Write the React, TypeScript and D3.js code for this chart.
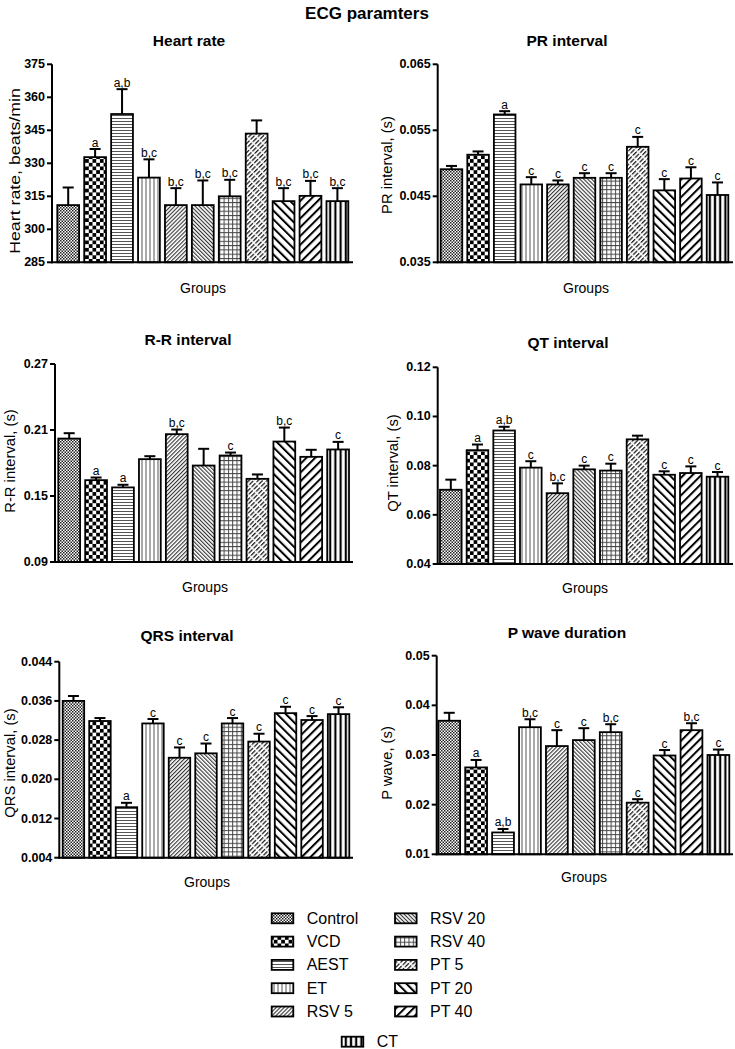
import React from "react";
import * as d3 from "d3";

const groups = ["Control", "VCD", "AEST", "ET", "RSV 5", "RSV 20", "RSV 40", "PT 5", "PT 20", "PT 40", "CT"];
const patternIds = ["pControl", "pVCD", "pAEST", "pET", "pRSV5", "pRSV20", "pRSV40", "pPT5", "pPT20", "pPT40", "pCT"];

// Heart rate
const hrMean = [311.0, 332.8, 352.4, 323.5, 311.0, 311.0, 315.0, 343.5, 312.8, 315.2, 312.8];
const hrErr = [8.0, 3.7, 11.3, 8.3, 7.7, 11.2, 7.5, 6.0, 5.9, 6.8, 5.9];
const hrSig = ["", "a", "a,b", "b,c", "b,c", "b,c", "b,c", "", "b,c", "b,c", "b,c"];
const hrTicks = [285, 300, 315, 330, 345, 360, 375];

// PR interval
const prMean = [0.0491, 0.0513, 0.0574, 0.0468, 0.0468, 0.0478, 0.0478, 0.0525, 0.0459, 0.0477, 0.0452];
const prErr = [0.0005, 0.0005, 0.0005, 0.0011, 0.0006, 0.0007, 0.0007, 0.0015, 0.0017, 0.0017, 0.0019];
const prSig = ["", "", "a", "c", "c", "c", "c", "c", "c", "c", "c"];
const prTicks = [0.035, 0.045, 0.055, 0.065];

// R-R interval
const rrMean = [0.2022, 0.1644, 0.1578, 0.1835, 0.2062, 0.1777, 0.1868, 0.1656, 0.1995, 0.1856, 0.1923];
const rrErr = [0.0049, 0.0024, 0.0024, 0.0027, 0.0042, 0.0152, 0.0027, 0.004, 0.0127, 0.0064, 0.0069];
const rrSig = ["", "a", "a", "", "b,c", "", "c", "", "b,c", "", "c"];
const rrTicks = [0.09, 0.15, 0.21, 0.27];

// QT interval
const qtMean = [0.0702, 0.0863, 0.0943, 0.0792, 0.0688, 0.0785, 0.078, 0.0907, 0.0763, 0.077, 0.0755];
const qtErr = [0.0041, 0.0023, 0.0015, 0.0026, 0.004, 0.0015, 0.0028, 0.0015, 0.0014, 0.0027, 0.0019];
const qtSig = ["", "a", "a,b", "c", "b,c", "c", "c", "", "c", "c", "c"];
const qtTicks = [0.04, 0.06, 0.08, 0.10, 0.12];

// QRS interval
const qrsMean = [0.036, 0.0319, 0.0143, 0.0314, 0.0244, 0.0253, 0.0314, 0.0277, 0.0335, 0.0321, 0.0333];
const qrsErr = [0.001, 0.0006, 0.0009, 0.0009, 0.0021, 0.002, 0.0011, 0.0016, 0.0013, 0.0008, 0.0014];
const qrsSig = ["", "", "a", "c", "c", "c", "c", "c", "c", "c", "c"];
const qrsTicks = [0.004, 0.012, 0.020, 0.028, 0.036, 0.044];

// P wave duration
const pwMean = [0.0369, 0.0275, 0.0144, 0.0356, 0.0318, 0.033, 0.0346, 0.0204, 0.0299, 0.035, 0.030];
const pwErr = [0.0016, 0.0015, 0.0007, 0.0016, 0.0032, 0.0024, 0.0016, 0.0007, 0.0011, 0.0014, 0.0011];
const pwSig = ["", "a", "a,b", "b,c", "c", "c", "b,c", "c", "c", "b,c", "c"];
const pwTicks = [0.01, 0.02, 0.03, 0.04, 0.05];

const FONT = "'Liberation Sans', Arial, sans-serif";

type PanelCfg = {
  title: string;
  ylabel: string;
  mean: number[];
  err: number[];
  sig: string[];
  ticks: number[];
  fmt: string;
  x0: number; x1: number; yTop: number; yBot: number;
  barL: number; barR: number;
  tx: number; ty: number; gx: number; gy: number; lx: number; ly: number; lstretch: number;
};

function Panel({ c }: { c: PanelCfg }) {
  const y = d3.scaleLinear().domain([c.ticks[0], c.ticks[c.ticks.length - 1]]).range([c.yBot, c.yTop]);
  const x = d3.scaleBand<string>().domain(groups).range([c.barL, c.barR]).paddingInner(0.19).paddingOuter(0);
  const bw = x.bandwidth();
  const fmt = d3.format(c.fmt);
  return (
    <g>
      <text x={c.tx} y={c.ty} textAnchor="middle" dominantBaseline="central" fontWeight="bold" fontSize={15.5} fontFamily={FONT} fill="#000">{c.title}</text>
      {groups.map((g, i) => {
        const bx = x(g)!;
        const top = y(c.mean[i]);
        const et = y(c.mean[i] + c.err[i]);
        const cx = bx + bw / 2;
        return (
          <g key={g}>
            <rect x={bx} y={top} width={bw} height={c.yBot - top} fill={`url(#${patternIds[i]})`} stroke="#000" strokeWidth={1.8} />
            <line x1={cx} x2={cx} y1={top} y2={et} stroke="#000" strokeWidth={2} />
            <line x1={cx - 5.5} x2={cx + 5.5} y1={et} y2={et} stroke="#000" strokeWidth={2} />
            {c.sig[i] && (
              <text x={cx} y={et - 2.5} textAnchor="middle" fontSize={12} fontFamily={FONT} fill="#000">{c.sig[i]}</text>
            )}
          </g>
        );
      })}
      <line x1={c.x0} x2={c.x0} y1={c.yTop} y2={c.yBot + 1} stroke="#000" strokeWidth={2} />
      <line x1={c.x0 - 1} x2={c.x1} y1={c.yBot} y2={c.yBot} stroke="#000" strokeWidth={2} />
      {c.ticks.map((t) => (
        <g key={t}>
          <line x1={c.x0 - 5} x2={c.x0} y1={y(t)} y2={y(t)} stroke="#000" strokeWidth={2} />
          <text x={c.x0 - 7} y={y(t)} textAnchor="end" dominantBaseline="central" fontWeight="bold" fontSize={12.5} fontFamily={FONT} fill="#000">{fmt(t)}</text>
        </g>
      ))}
      <text x={c.gx} y={c.gy} textAnchor="middle" dominantBaseline="central" fontSize={14} fontFamily={FONT} fill="#000">Groups</text>
      <text transform={`translate(${c.lx},${c.ly}) rotate(-90) scale(${c.lstretch},1)`} textAnchor="middle" dominantBaseline="central" fontSize={14.8} fontFamily={FONT} fill="#000">{c.ylabel}</text>
    </g>
  );
}

function Patterns() {
  return (
    <defs>
      <pattern id="pControl" patternUnits="userSpaceOnUse" width={3} height={3}>
        <rect width={3} height={3} fill="#fff" />
        <rect x={0} y={0} width={1.5} height={1.5} fill="#222" />
        <rect x={1.5} y={1.5} width={1.5} height={1.5} fill="#222" />
      </pattern>
      <pattern id="pVCD" patternUnits="userSpaceOnUse" width={7.4} height={7.4}>
        <rect width={7.4} height={7.4} fill="#fff" />
        <rect x={0} y={0} width={3.7} height={3.7} fill="#000" />
        <rect x={3.7} y={3.7} width={3.7} height={3.7} fill="#000" />
      </pattern>
      <pattern id="pAEST" patternUnits="userSpaceOnUse" width={6} height={3}>
        <rect width={6} height={3} fill="#fff" />
        <rect x={0} y={1} width={6} height={1} fill="#555" />
      </pattern>
      <pattern id="pET" patternUnits="userSpaceOnUse" width={4} height={6}>
        <rect width={4} height={6} fill="#fff" />
        <rect x={1.5} y={0} width={1} height={6} fill="#555" />
      </pattern>
      <pattern id="pRSV5" patternUnits="userSpaceOnUse" width={2.8} height={6} patternTransform="rotate(45)">
        <rect width={2.8} height={6} fill="#fff" />
        <rect x={0} y={0} width={1.1} height={6} fill="#333" />
      </pattern>
      <pattern id="pRSV20" patternUnits="userSpaceOnUse" width={2.8} height={6} patternTransform="rotate(-45)">
        <rect width={2.8} height={6} fill="#fff" />
        <rect x={0} y={0} width={1.1} height={6} fill="#333" />
      </pattern>
      <pattern id="pRSV40" patternUnits="userSpaceOnUse" width={4.3} height={4.3}>
        <rect width={4.3} height={4.3} fill="#fff" />
        <rect x={0} y={0} width={1} height={4.3} fill="#444" />
        <rect x={0} y={0} width={4.3} height={1} fill="#444" />
      </pattern>
      <pattern id="pPT5" patternUnits="userSpaceOnUse" width={3.2} height={7} patternTransform="rotate(45)">
        <rect width={3.2} height={7} fill="#fff" />
        <rect x={0} y={0} width={1.3} height={5.5} fill="#222" />
      </pattern>
      <pattern id="pPT20" patternUnits="userSpaceOnUse" width={6.2} height={6} patternTransform="rotate(-45)">
        <rect width={6.2} height={6} fill="#fff" />
        <rect x={0} y={0} width={2} height={6} fill="#000" />
      </pattern>
      <pattern id="pPT40" patternUnits="userSpaceOnUse" width={6.2} height={6} patternTransform="rotate(45)">
        <rect width={6.2} height={6} fill="#fff" />
        <rect x={0} y={0} width={2} height={6} fill="#000" />
      </pattern>
      <pattern id="pCT" patternUnits="userSpaceOnUse" width={5.2} height={6}>
        <rect width={5.2} height={6} fill="#fff" />
        <rect x={1.5} y={0} width={2.2} height={6} fill="#000" />
      </pattern>
    </defs>
  );
}

const panels: PanelCfg[] = [
  { title: "Heart rate", ylabel: "Heart rate, beats/min", mean: hrMean, err: hrErr, sig: hrSig, ticks: hrTicks, fmt: "d",
    x0: 52, x1: 353, yTop: 64.3, yBot: 262.3, barL: 57.3, barR: 348.3, tx: 189, ty: 40, gx: 203, gy: 288, lx: 15, ly: 171, lstretch: 1.2 },
  { title: "PR interval", ylabel: "PR interval, (s)", mean: prMean, err: prErr, sig: prSig, ticks: prTicks, fmt: ".3f",
    x0: 437.7, x1: 733, yTop: 64.3, yBot: 262.3, barL: 440.7, barR: 728.3, tx: 567, ty: 40, gx: 586, gy: 288, lx: 386.7, ly: 165, lstretch: 1 },
  { title: "R-R interval", ylabel: "R-R interval, (s)", mean: rrMean, err: rrErr, sig: rrSig, ticks: rrTicks, fmt: ".2f",
    x0: 55, x1: 353, yTop: 364, yBot: 562, barL: 58.3, barR: 349, tx: 188, ty: 339, gx: 205, gy: 587, lx: 10, ly: 461, lstretch: 1 },
  { title: "QT interval", ylabel: "QT interval, (s)", mean: qtMean, err: qtErr, sig: qtSig, ticks: qtTicks, fmt: ".2f",
    x0: 437.7, x1: 733, yTop: 367.3, yBot: 564, barL: 440, barR: 728.3, tx: 568, ty: 342, gx: 585, gy: 588, lx: 393, ly: 463, lstretch: 1 },
  { title: "QRS interval", ylabel: "QRS interval, (s)", mean: qrsMean, err: qrsErr, sig: qrsSig, ticks: qrsTicks, fmt: ".3f",
    x0: 59.3, x1: 353, yTop: 661.7, yBot: 857.7, barL: 62.7, barR: 349.3, tx: 187, ty: 635, gx: 207, gy: 882, lx: 10, ly: 763, lstretch: 1 },
  { title: "P wave duration", ylabel: "P wave, (s)", mean: pwMean, err: pwErr, sig: pwSig, ticks: pwTicks, fmt: ".2f",
    x0: 436.7, x1: 733, yTop: 655.7, yBot: 854.3, barL: 438.3, barR: 729.3, tx: 567, ty: 632, gx: 584, gy: 877, lx: 386.7, ly: 763, lstretch: 1 },
];

export default function App() {
  const legendLeft = groups.slice(0, 5);
  const legendRight = groups.slice(5, 10);
  return (
    <svg width={735} height={1049} style={{ position: "absolute", left: 0, top: 0, background: "#fff" }}>
      <Patterns />
      <rect width={735} height={1049} fill="#fff" />
      <text x={367} y={13} textAnchor="middle" dominantBaseline="central" fontWeight="bold" fontSize={17} fontFamily={FONT} fill="#000">ECG paramters</text>
      {panels.map((p) => <Panel key={p.title} c={p} />)}
      {legendLeft.map((g, i) => (
        <g key={g}>
          <rect x={271.7} y={918.3 + i * 23.3 - 5} width={21.6} height={10} fill={`url(#${patternIds[i]})`} stroke="#000" strokeWidth={1.8} />
          <text x={306.7} y={918.3 + i * 23.3} dominantBaseline="central" fontSize={16} fontFamily={FONT} fill="#000">{g}</text>
        </g>
      ))}
      {legendRight.map((g, i) => (
        <g key={g}>
          <rect x={395} y={918.3 + i * 23.3 - 5} width={21.6} height={10} fill={`url(#${patternIds[i + 5]})`} stroke="#000" strokeWidth={1.8} />
          <text x={430} y={918.3 + i * 23.3} dominantBaseline="central" fontSize={16} fontFamily={FONT} fill="#000">{g}</text>
        </g>
      ))}
      <rect x={341.7} y={1041.7 - 5} width={21.6} height={10} fill={`url(#${patternIds[10]})`} stroke="#000" strokeWidth={1.8} />
      <text x={376.7} y={1041.7} dominantBaseline="central" fontSize={16} fontFamily={FONT} fill="#000">{groups[10]}</text>
    </svg>
  );
}
